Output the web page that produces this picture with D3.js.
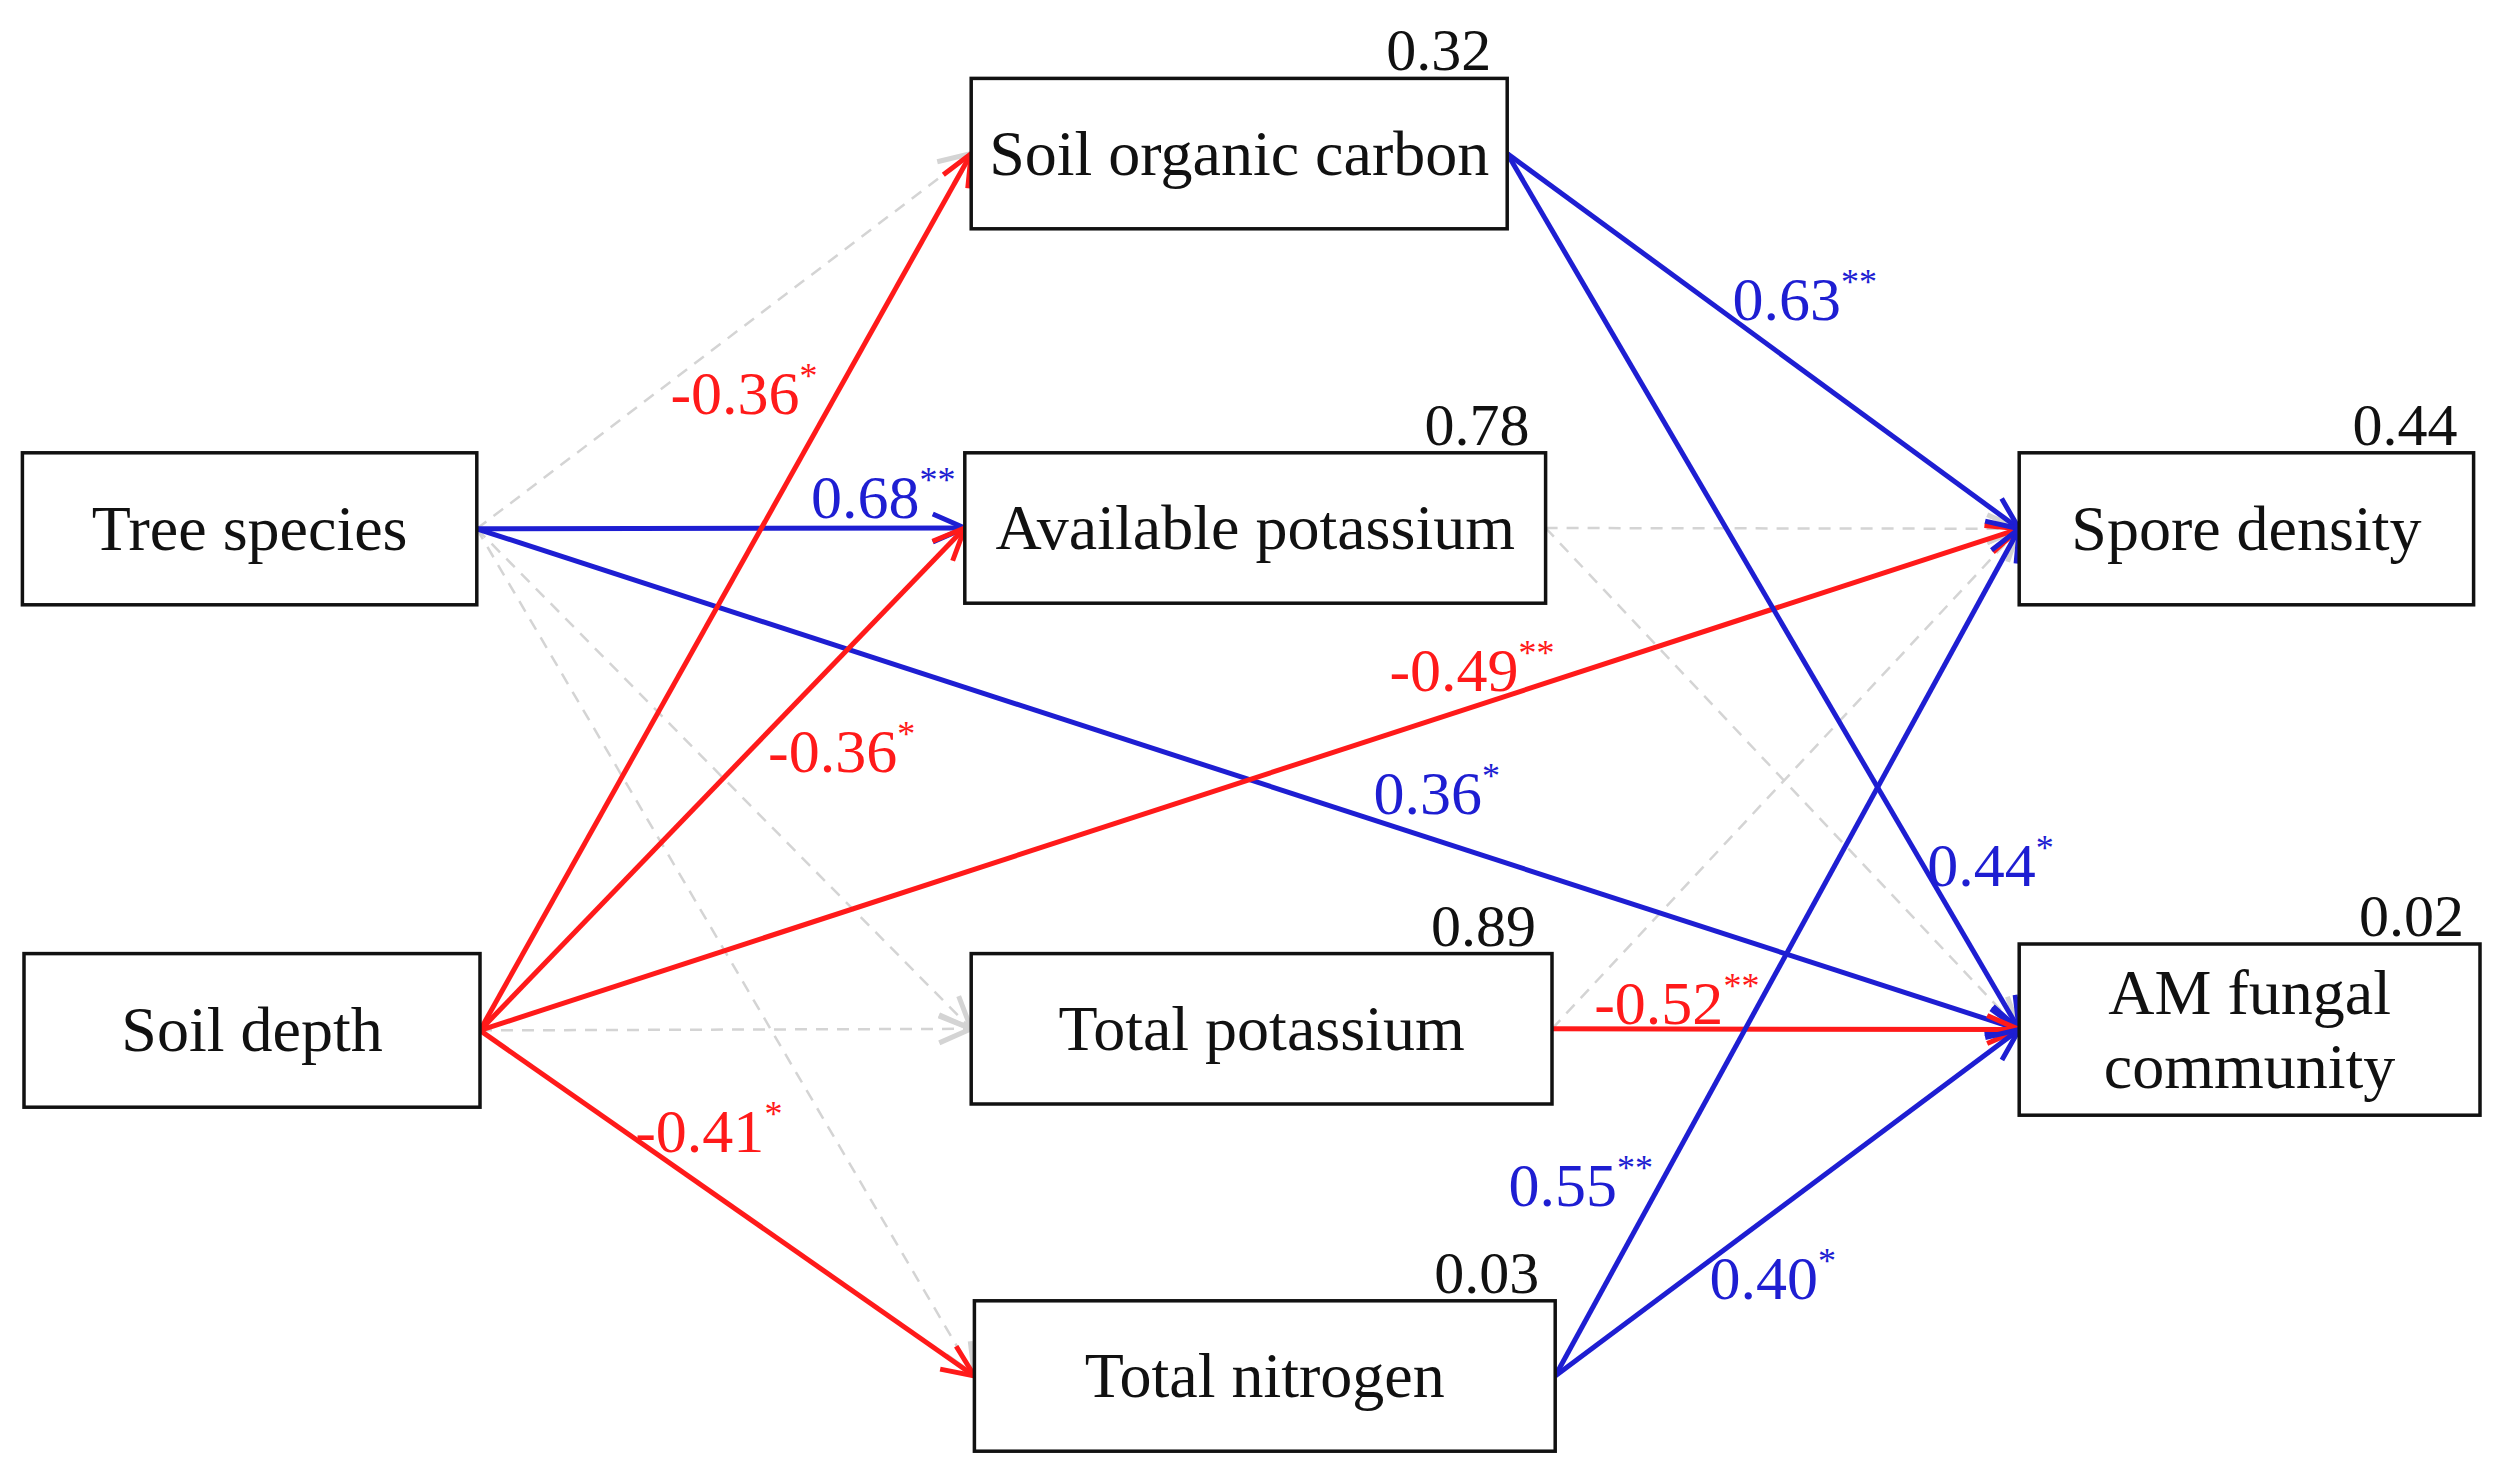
<!DOCTYPE html>
<html>
<head>
<meta charset="utf-8">
<script src="https://cdn.jsdelivr.net/npm/d3@7"></script>
<style>
  body { margin: 0; background: #fff; }
  text { font-family: "Liberation Serif", "DejaVu Serif", serif; }
</style>
</head>
<body>
<svg id="chart" width="2496" height="1472"></svg>
<script>
// node names and their R² values
var nodeNames = ["Tree species", "Soil depth", "Soil organic carbon", "Available potassium",
                 "Total potassium", "Total nitrogen", "Spore density", "AM fungal\ncommunity"];
var nodeR2 = [null, null, "0.32", "0.78", "0.89", "0.03", "0.44", "0.02"];

// paths: from, to, coefficient, significance ("" = not significant, dashed)
var pathFrom = [0, 0, 0, 0, 0, 1, 1, 1, 1, 1, 2, 2, 3, 3, 4, 4, 5, 5];
var pathTo   = [2, 3, 7, 4, 5, 2, 3, 6, 4, 5, 6, 7, 6, 7, 7, 6, 6, 7];
var pathCoef = [null, "0.68", "0.36", null, null, "-0.36", "-0.36", "-0.49", null, "-0.41",
                "0.63", "0.44", null, null, "-0.52", null, "0.55", "0.40"];
var pathSig  = ["", "**", "*", "", "", "*", "*", "**", "", "*", "**", "*", "", "", "**", "", "**", "*"];

// layout (reference coords, 1560 wide picture, scaled up below)
var boxes = [
  [14, 283, 298, 378], [15, 596, 300, 692], [607, 49, 942, 143], [603, 283, 966, 377],
  [607, 596, 970, 690], [609, 813, 972, 907], [1262, 283, 1546, 378], [1262, 590, 1550, 697]
];
var labelPos = [null, [552, 310], [898, 495], null, null, [465, 245], [526, 469], [920, 418], null,
                [443, 706], [1128, 186], [1244, 540], null, null, [1048, 626], null, [988, 740], [1108, 798]];

var k = 1.6;
var sx = d3.scaleLinear().domain([0, 1560]).range([0, 1560 * k]);
var sy = d3.scaleLinear().domain([0, 920]).range([0, 920 * k]);

var RED = "#ff1a1a", BLUE = "#1e1ed2", GREY = "#d4d4d4";

var svg = d3.select("#chart");
var defs = svg.append("defs");
[["red", RED], ["blue", BLUE], ["grey", GREY]].forEach(function (m) {
  defs.append("marker")
    .attr("id", "arr-" + m[0])
    .attr("viewBox", "0 0 40 40")
    .attr("refX", 37).attr("refY", 20)
    .attr("markerWidth", 40).attr("markerHeight", 40)
    .attr("markerUnits", "userSpaceOnUse")
    .attr("orient", "auto")
    .append("path")
      .attr("d", "M5,6 L37,20 L5,34")
      .attr("fill", "none")
      .attr("stroke", m[1])
      .attr("stroke-width", 5);
});

function rightMid(i) { var b = boxes[i]; return [sx(b[2]), sy((b[1] + b[3]) / 2)]; }
function leftMid(i) { var b = boxes[i]; return [sx(b[0]), sy((b[1] + b[3]) / 2)]; }

var paths = pathFrom.map(function (f, i) {
  return { from: f, to: pathTo[i], coef: pathCoef[i], sig: pathSig[i], lab: labelPos[i] };
});

function kind(d) { return d.coef === null ? "grey" : (d.coef[0] === "-" ? "red" : "blue"); }
function col(d) { return { red: RED, blue: BLUE, grey: GREY }[kind(d)]; }

// dashed paths first, then significant ones on top
paths.sort(function (a, b) { return (a.coef === null ? 0 : 1) - (b.coef === null ? 0 : 1); });

svg.append("g").selectAll("line")
  .data(paths)
  .enter().append("line")
    .attr("x1", function (d) { return rightMid(d.from)[0]; })
    .attr("y1", function (d) { return rightMid(d.from)[1]; })
    .attr("x2", function (d) { return leftMid(d.to)[0]; })
    .attr("y2", function (d) { return leftMid(d.to)[1]; })
    .attr("stroke", col)
    .attr("stroke-width", function (d) { return d.coef === null ? 2.5 : 5; })
    .attr("stroke-dasharray", function (d) { return d.coef === null ? "12,9" : null; })
    .attr("marker-end", function (d) { return "url(#arr-" + kind(d) + ")"; });

// boxes
var node = svg.append("g").selectAll("g")
  .data(nodeNames)
  .enter().append("g");

node.append("rect")
  .attr("x", function (d, i) { return sx(boxes[i][0]); })
  .attr("y", function (d, i) { return sy(boxes[i][1]); })
  .attr("width", function (d, i) { return sx(boxes[i][2]) - sx(boxes[i][0]); })
  .attr("height", function (d, i) { return sy(boxes[i][3]) - sy(boxes[i][1]); })
  .attr("fill", "#fff")
  .attr("stroke", "#111")
  .attr("stroke-width", 3.5);

node.each(function (d, i) {
  var b = boxes[i], lines = d.split("\n");
  var cx = sx((b[0] + b[2]) / 2), cy = sy((b[1] + b[3]) / 2);
  var t = d3.select(this).append("text")
    .attr("text-anchor", "middle")
    .attr("font-size", 64)
    .attr("fill", "#111");
  lines.forEach(function (l, j) {
    t.append("tspan")
      .attr("x", cx)
      .attr("y", cy + 21 + (j - (lines.length - 1) / 2) * 74)
      .text(l);
  });
  if (nodeR2[i] !== null) {
    d3.select(this).append("text")
      .attr("x", sx(b[2]) - 16)
      .attr("y", sy(b[1]) - 8)
      .attr("text-anchor", "end")
      .attr("font-size", 60)
      .attr("fill", "#111")
      .text(nodeR2[i]);
  }
});

// coefficient labels
var lab = svg.append("g").selectAll("text")
  .data(paths.filter(function (d) { return d.coef !== null; }))
  .enter().append("text")
    .attr("x", function (d) { return sx(d.lab[0]); })
    .attr("y", function (d) { return sy(d.lab[1]) + 22; })
    .attr("text-anchor", "middle")
    .attr("font-size", 62)
    .attr("fill", col);
lab.append("tspan").text(function (d) { return d.coef; });
lab.append("tspan")
  .attr("font-size", 36)
  .attr("dy", -26)
  .text(function (d) { return d.sig; });
</script>
</body>
</html>
